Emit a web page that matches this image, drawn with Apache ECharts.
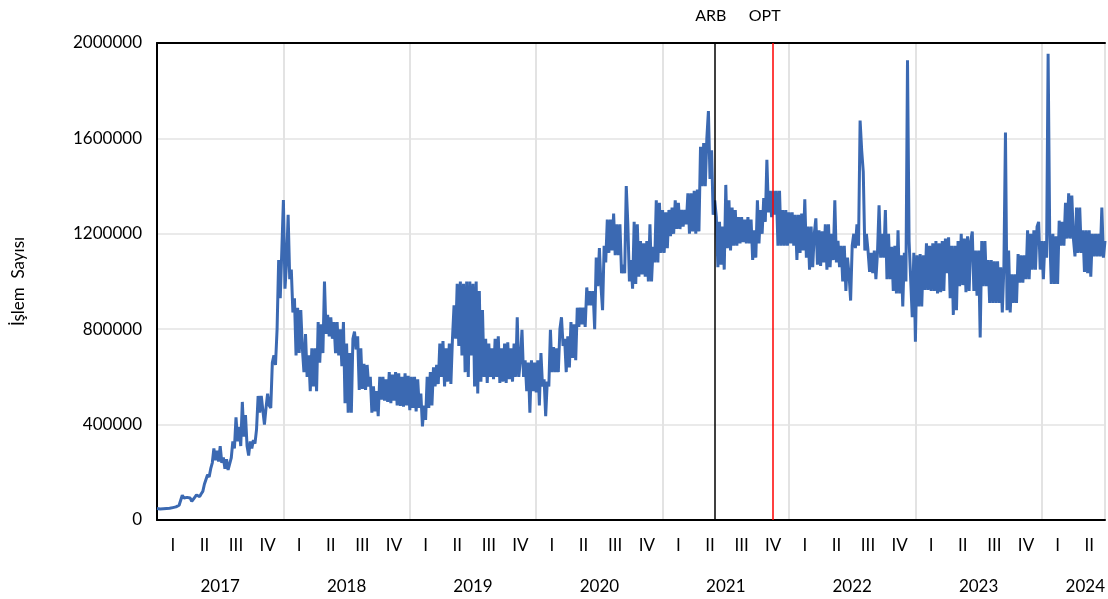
<!DOCTYPE html>
<html>
<head>
<meta charset="utf-8">
<script src="https://cdn.jsdelivr.net/npm/echarts@6/dist/echarts.min.js"></script>
<style>
  html, body { margin: 0; padding: 0; background: #fff; }
  #chart { width: 1108px; height: 599px; }
</style>
</head>
<body>
<div id="chart"></div>
<script>
// daily transaction count (thousands), sampled every 0.15 month from Jan 2017
const stepMonths = 0.15
const dailyTxK = [
  48, 50, 46, 49, 47, 50, 48, 52, 49, 54,
  52, 56, 55, 60, 62, 70, 104, 92, 86, 95,
  88, 92, 78, 82, 96, 105, 112, 98, 110, 120,
  150, 142, 190, 180, 215, 240, 300, 250, 290, 245,
  310, 240, 262, 215, 255, 210, 205, 260, 330, 300,
  430, 330, 390, 310, 495, 350, 440, 310, 270, 330,
  300, 335, 320, 380, 520, 450, 520, 460, 400, 470,
  530, 480, 470, 660, 690, 650, 800, 1090, 930, 1130,
  1342, 970, 1080, 1280, 1010, 1050, 870, 930, 690, 890,
  700, 880, 720, 620, 780, 600, 690, 540, 720, 560,
  720, 540, 830, 660, 820, 700, 1000, 780, 860, 770,
  850, 760, 830, 700, 830, 690, 800, 645, 830, 490,
  740, 450, 700, 450, 760, 790, 715, 770, 545, 720,
  550, 655, 545, 650, 560, 600, 450, 560, 455, 540,
  435, 600, 505, 600, 500, 590, 495, 620, 490, 610,
  500, 620, 480, 615, 478, 600, 475, 615, 480, 605,
  460, 600, 470, 600, 455, 590, 470, 530, 392, 480,
  420, 600, 470, 620, 480, 640, 560, 650, 570, 740,
  600, 750, 560, 720, 580, 740, 570, 760, 900, 760,
  990, 730, 1000, 690, 990, 620, 1000, 600, 1000, 690,
  990, 560, 1000, 530, 960, 580, 880, 600, 760, 575,
  740, 600, 720, 590, 760, 600, 770, 575, 720, 580,
  740, 575, 745, 590, 720, 580, 740, 600, 850, 600,
  670, 797, 600, 670, 540, 660, 450, 670, 540, 660,
  535, 670, 480, 700, 560, 590, 435, 580, 560, 797,
  620, 725, 620, 720, 620, 800, 850, 730, 760, 620,
  770, 640, 830, 680, 820, 670, 890, 810, 890, 820,
  890, 810, 975, 900, 960, 900, 960, 800, 1100, 980,
  1140, 980, 880, 1150, 1080, 1260, 1120, 1260, 1130, 1285,
  1110, 1240, 1110, 1240, 1035, 1070, 1035, 1400, 1240, 1000,
  1090, 970, 1250, 990, 1240, 1020, 1170, 1030, 1160, 1020,
  1170, 1000, 1240, 1000, 1145, 1080, 1340, 1080, 1330, 1120,
  1300, 1120, 1290, 1140, 1300, 1190, 1310, 1200, 1340, 1220,
  1330, 1220, 1300, 1230, 1300, 1240, 1370, 1200, 1370, 1210,
  1380, 1200, 1385, 1210, 1565, 1400, 1580, 1400, 1600, 1715,
  1430, 1550, 1280, 1340, 1270, 1060, 1250, 1070, 1230, 1050,
  1405, 1140, 1340, 1130, 1310, 1150, 1300, 1150, 1270, 1160,
  1270, 1165, 1260, 1160, 1270, 1160, 1260, 1090, 1215, 1100,
  1340, 1160, 1300, 1200, 1350, 1250, 1510, 1290, 1380, 1270,
  1380, 1280, 1380, 1150, 1380, 1150, 1300, 1150, 1300, 1150,
  1290, 1160, 1290, 1150, 1280, 1090, 1280, 1120, 1285, 1130,
  1345, 1100, 1230, 1050, 1230, 1060, 1200, 1265, 1070, 1215,
  1065, 1210, 1080, 1240, 1050, 1240, 1060, 1200, 1090, 1340,
  1080, 1170, 1060, 1150, 1000, 1150, 960, 1100, 1030, 920,
  1150, 1200, 1140, 1240, 1150, 1675, 1550, 1460, 1130, 1200,
  1130, 1040, 1120, 1035, 1130, 1010, 1120, 1320, 1100, 1200,
  1100, 1300, 1010, 1200, 1010, 1145, 960, 1150, 950, 1215,
  950, 1110, 895, 1120, 1000, 1928, 1170, 1170, 850, 1120,
  748, 1110, 895, 1115, 895, 1110, 965, 1160, 965, 1150,
  960, 1160, 960, 1170, 950, 1160, 955, 1170, 960, 1180,
  1035, 1185, 930, 1150, 860, 1150, 880, 1170, 980, 1200,
  985, 1180, 955, 1190, 960, 1170, 1210, 960, 1130, 940,
  1130, 765, 1170, 980, 1170, 980, 1090, 910, 1090, 910,
  1085, 910, 1085, 910, 1060, 870, 1060, 1625, 880, 1130,
  870, 1030, 910, 1030, 910, 1115, 995, 1110, 995, 1110,
  1010, 1215, 1010, 1200, 1050, 1215, 1050, 1230, 1250, 1050,
  1170, 1010, 1170, 1100, 1955, 1200, 990, 1200, 990, 1190,
  990, 1255, 1150, 1250, 1150, 1330, 1180, 1370, 1180, 1360,
  1180, 1105, 1310, 1120, 1310, 1120, 1215, 1040, 1215, 1035,
  1215, 1020, 1200, 1105, 1200, 1105, 1200, 1105, 1310, 1100,
  1170
]

const quarterNames = ['I', 'II', 'III', 'IV']
const yearLabels = ['2017', '2018', '2019', '2020', '2021', '2022', '2023', '2024']
const quarterCount = 30

// launch markers, in months since Jan 2017
const markerNames = ['ARB', 'OPT']
const markerMonths = [52.95, 58.45]

const fontFamily = 'Lato, "Open Sans", sans-serif'

const quarterLabels = []
for (let i = 0; i < quarterCount; i++) quarterLabels.push(quarterNames[i % 4])

const seriesData = dailyTxK.map((v, i) => [i * stepMonths, v * 1000])

const chart = echarts.init(document.getElementById('chart'))

chart.setOption({
  animation: false,
  textStyle: { fontFamily },
  grid: { left: 157, right: 0, top: 43, bottom: 79 },
  xAxis: [
    {
      type: 'value',
      min: 0,
      max: 90,
      interval: 12,
      position: 'bottom',
      axisLine: { show: true, lineStyle: { color: '#000', width: 2 } },
      axisTick: { show: false },
      axisLabel: { show: false },
      splitLine: { show: true, lineStyle: { color: '#e3e3e3', width: 2 } },
    },
    {
      type: 'category',
      data: quarterLabels,
      position: 'bottom',
      boundaryGap: true,
      axisLine: { show: false },
      axisTick: { show: false },
      splitLine: { show: false },
      axisLabel: { interval: 0, margin: 17, fontSize: 17, color: '#000', fontFamily },
    },
    {
      type: 'value',
      min: 0,
      max: 90,
      interval: 6,
      position: 'bottom',
      axisLine: { show: false },
      axisTick: { show: false },
      splitLine: { show: false },
      axisLabel: {
        margin: 58,
        fontSize: 17,
        color: '#000',
        fontFamily,
        showMaxLabel: true,
        alignMaxLabel: 'right',
        formatter: (v) => {
          if (v === 90) return yearLabels[7]
          if (v % 12 === 6) return yearLabels[(v - 6) / 12]
          return ''
        },
      },
    },
    {
      type: 'value',
      min: 0,
      max: 90,
      position: 'top',
      axisLine: { show: true, lineStyle: { color: '#000', width: 2 } },
      axisTick: { show: false },
      axisLabel: { show: false },
      splitLine: { show: false },
    },
  ],
  yAxis: {
    type: 'value',
    min: 0,
    max: 2000000,
    interval: 400000,
    name: 'İşlem  Sayısı',
    nameLocation: 'middle',
    nameGap: 130,
    nameTextStyle: { fontSize: 17, color: '#000', fontFamily },
    axisLine: { show: true, lineStyle: { color: '#000', width: 2 } },
    axisTick: { show: false },
    axisLabel: {
      fontSize: 17,
      color: '#000',
      margin: 15,
      fontFamily,
      formatter: (v) => String(v),
    },
    splitLine: { show: true, lineStyle: { color: '#e3e3e3', width: 1.5 } },
  },
  series: [
    {
      type: 'line',
      xAxisIndex: 0,
      data: seriesData,
      showSymbol: false,
      lineStyle: { color: '#3b69b2', width: 3 },
      itemStyle: { color: '#3b69b2' },
      z: 3,
      markLine: {
        silent: true,
        symbol: ['none', 'none'],
        animation: false,
        label: {
          show: true,
          position: 'end',
          distance: 19,
          fontSize: 16,
          color: '#000',
          fontFamily,
        },
        data: [
          {
            xAxis: markerMonths[0],
            lineStyle: { color: '#000', width: 1.5, type: 'solid' },
            label: { formatter: markerNames[0], padding: [0, 8, 0, 0] },
          },
          {
            xAxis: markerMonths[1],
            lineStyle: { color: '#ff0000', width: 1.5, type: 'solid' },
            label: { formatter: markerNames[1], padding: [0, 16, 0, 0] },
          },
        ],
      },
    },
  ],
})
</script>
</body>
</html>
